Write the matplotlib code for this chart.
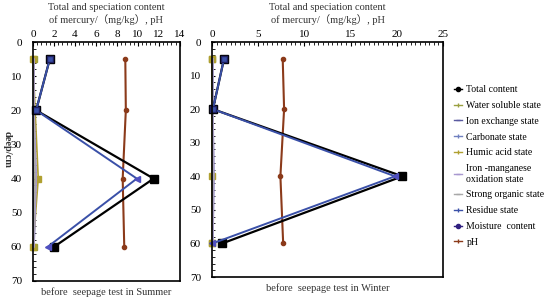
import matplotlib.pyplot as plt
from matplotlib.ticker import AutoMinorLocator, MultipleLocator

plt.rcParams['font.family'] = ['Liberation Serif', 'DejaVu Serif']

depth = [5, 20, 40, 60]

# summer (before seepage test)
s_total = [1.6, 0.3, 11.5, 2.0]
s_water = [0.05, 0.05, 0.1, 0.05]
s_ion = [0.02, 0.02, 0.05, 0.02]
s_carb = [0.1, 0.1, 0.3, 0.1]
s_humic = [0.0, 0.2, 0.5, 0.0]
s_fe_mn = [0.1, 0.1, 0.3, 0.1]
s_organic = [0.05, 0.05, 0.2, 0.05]
s_residue = [1.6, 0.3, 9.9, 1.4]
s_ph = [8.8, 8.85, 8.55, 8.7]

# winter
w_total = [1.3, 0.1, 20.6, 1.1]
w_water = [0.05, 0.05, 0.1, 0.05]
w_ion = [0.02, 0.02, 0.05, 0.02]
w_carb = [0.1, 0.1, 0.2, 0.1]
w_humic = [0.0, 0.0, 0.0, 0.0]
w_fe_mn = [0.1, 0.1, 0.2, 0.1]
w_organic = [0.05, 0.05, 0.1, 0.05]
w_residue = [1.3, 0.1, 19.8, 0.05]
w_ph = [7.65, 7.8, 7.4, 7.7]

labels = ["Total content", "Water soluble state", "Ion exchange state",
          "Carbonate state", "Humic acid state", "Iron -manganese\noxidation state",
          "Strong organic state", "Residue state", "Moisture  content", "pH"]
colors = ["black", "#9aa040", "#5a5aa0", "#7080c0", "#b0a030", "#a898d0",
          "#a8a8a8", "#3a50a8", "#302080", "#8b3a1a"]

fig = plt.figure(figsize=(5.5, 3.04), dpi=100)
ax1 = fig.add_axes([0.06, 0.0757, 0.267, 0.786])
ax2 = fig.add_axes([0.3855, 0.0888, 0.42, 0.773])


def draw(ax, total, water, ion, carb, humic, fe_mn, organic, residue, ph, xmax, step, minor, season):
    ax.plot(water, depth, color=colors[1], lw=1, marker='s', ms=4, markevery=[0, 3], clip_on=False)
    ax.plot(ion, depth, color=colors[2], lw=1)
    ax.plot(carb, depth, color=colors[3], lw=1)
    ax.plot(humic, depth, color=colors[4], lw=1.2, marker='s', ms=4, markevery=[0, 2, 3], clip_on=False)
    ax.plot(fe_mn, depth, color=colors[5], lw=1.2)
    ax.plot(organic, depth, color=colors[6], lw=1)
    ax.plot(ph, depth, color=colors[9], lw=1.5, marker='o', ms=3)
    ax.plot(total, depth, color='black', lw=1.6, marker='s', ms=5.5, clip_on=False)
    ax.plot(residue, depth, color=colors[7], lw=1.4)
    ax.plot(residue, depth, ls='none', marker='s', ms=5, mfc=colors[7], mec='#202060',
            markevery=[0, 1], clip_on=False)
    ax.plot(residue, depth, ls='none', marker='<', ms=5, color='#5050c0',
            markevery=[2, 3], clip_on=False)

    ax.set_xlim(0, xmax)
    ax.set_ylim(70, 0)
    ax.xaxis.tick_top()
    ax.xaxis.set_major_locator(MultipleLocator(step))
    ax.xaxis.set_minor_locator(AutoMinorLocator(minor))
    ax.yaxis.set_major_locator(MultipleLocator(10))
    ax.yaxis.set_minor_locator(AutoMinorLocator(5))
    ax.tick_params(axis='x', which='both', direction='in', labelsize=8, pad=2)
    ax.tick_params(axis='x', which='major', length=3)
    ax.tick_params(axis='x', which='minor', length=2)
    ax.tick_params(axis='y', which='both', direction='in', labelsize=8, pad=8, length=2)
    for sp in ax.spines.values():
        sp.set_linewidth(1.2)
    ax.set_title("Total and speciation content\nof mercury/（mg/kg）, pH",
                 fontsize=7.5, color='#333333', pad=14, linespacing=1.2,
                 family=['Liberation Serif', 'Noto Sans CJK SC'])
    ax.text(0.5, -0.025, "before  seepage test in " + season, transform=ax.transAxes,
            ha='center', va='top', fontsize=7.5, color='#333333')


draw(ax1, s_total, s_water, s_ion, s_carb, s_humic, s_fe_mn, s_organic, s_residue, s_ph,
     14, 2, 5, "Summer")
draw(ax2, w_total, w_water, w_ion, w_carb, w_humic, w_fe_mn, w_organic, w_residue, w_ph,
     25, 5, 10, "Winter")

fig.text(0.004, 0.51, "deep/cm", rotation=270, fontsize=7.5, ha='left', va='center',
         weight='bold', color='#333333')

handles = []
markers = ['o', '|', '_', '|', '|', '_', '_', '|', 'o', '|']
for lab, c, m in zip(labels, colors, markers):
    h, = ax2.plot([], [], color=c, lw=1, marker=m, ms=3)
    handles.append(h)
fig.legend(handles, labels, loc='upper left', bbox_to_anchor=(0.825, 0.72),
           frameon=False, fontsize=7, handlelength=0.8, handletextpad=0.5,
           labelspacing=0.7, borderaxespad=0, borderpad=0)

fig.savefig("out.png", dpi=100)
